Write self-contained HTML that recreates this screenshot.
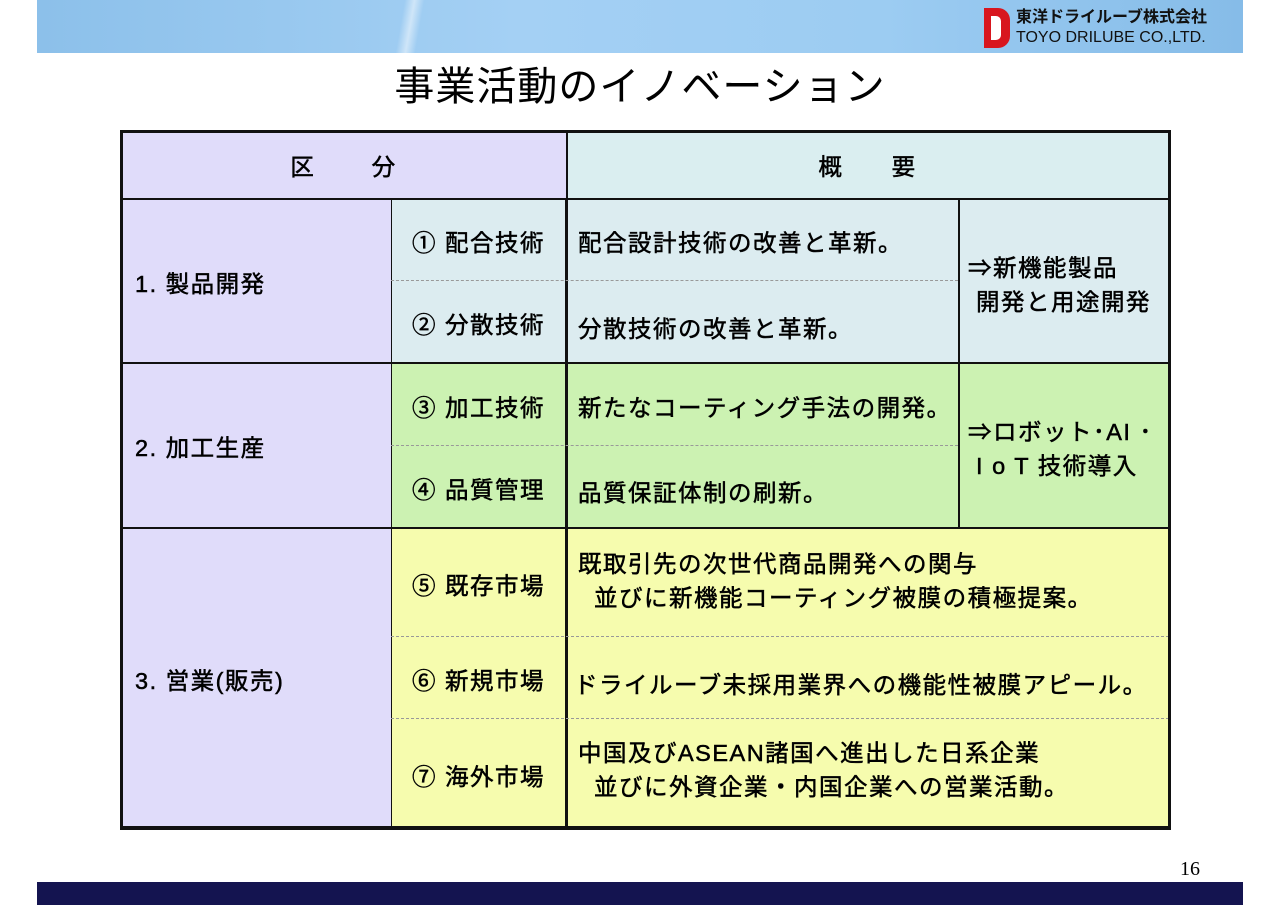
<!DOCTYPE html>
<html><head><meta charset="utf-8"><style>
*{margin:0;padding:0;box-sizing:border-box}
body{width:1280px;height:905px;background:#fff;position:relative;overflow:hidden;font-family:"Liberation Sans","Noto Sans CJK JP",sans-serif;color:#000}
.a{position:absolute}
.c{position:absolute;display:flex;align-items:center;font-size:23.5px;letter-spacing:1.5px;-webkit-text-stroke:0.5px #000;white-space:nowrap}
.t{position:absolute;font-size:23.5px;letter-spacing:1.5px;-webkit-text-stroke:0.5px #000;line-height:34px;white-space:nowrap}
.b{border:1.5px solid #111}
.d{border-top:1px dashed #999}
</style></head><body>
<div class="a" style="left:37px;top:0;width:1206px;height:53px;background:linear-gradient(90deg,#8cc0ea 0%,#a4d0f4 40%,#9cccf2 70%,#86bce8 100%)"></div>
<div class="a" style="left:390px;top:0;width:40px;height:53px;background:linear-gradient(100deg,transparent 30%,rgba(255,255,255,.5) 50%,transparent 70%)"></div>
<div class="a" style="left:984px;top:8px;width:26px;height:40px;background:#d8161e;border-radius:0 12px 12px 0"></div>
<div class="a" style="left:991px;top:16px;width:10px;height:24px;background:#fff;border-radius:0 5px 5px 0"></div>
<div class="a" style="left:1016px;top:8px;font-size:16px;font-weight:bold;line-height:19px;color:#111">東洋ドライルーブ株式会社</div>
<div class="a" style="left:1016px;top:28px;font-size:16px;line-height:19px;color:#111">TOYO DRILUBE CO.,LTD.</div>
<div class="a" style="left:0;width:1280px;top:60px;text-align:center;font-size:40px;letter-spacing:1px;line-height:54px">事業活動のイノベーション</div>

<div class="a" style="left:121px;top:131px;width:445px;height:67px;background:#e0dcfa"></div>
<div class="a" style="left:566px;top:131px;width:603px;height:67px;background:#daeef0"></div>
<div class="a" style="left:121px;top:198px;width:270px;height:630px;background:#e0dcfa"></div>
<div class="a" style="left:391px;top:198px;width:778px;height:164px;background:#dcecf0"></div>
<div class="a" style="left:391px;top:362px;width:778px;height:165px;background:#ccf2b2"></div>
<div class="a" style="left:391px;top:527px;width:778px;height:301px;background:#f6fcae"></div>

<div class="a b" style="left:391px;top:198px;width:175px;height:630px"></div>
<div class="a b" style="left:566px;top:131px;width:0;height:697px"></div>
<div class="a b" style="left:958px;top:198px;width:0;height:329px"></div>
<div class="a b" style="left:121px;top:198px;width:1048px;height:0"></div>
<div class="a b" style="left:121px;top:362px;width:1048px;height:0"></div>
<div class="a b" style="left:121px;top:527px;width:1048px;height:0"></div>
<div class="a d" style="left:391px;top:280px;width:567px"></div>
<div class="a d" style="left:391px;top:445px;width:567px"></div>
<div class="a d" style="left:391px;top:636px;width:778px"></div>
<div class="a d" style="left:391px;top:718px;width:778px"></div>
<div class="a" style="left:120px;top:130px;width:1051px;height:700px;border:3px solid #111;border-bottom-width:4px"></div>

<div class="c" style="left:121px;top:131px;width:445px;height:67px;justify-content:center">区&nbsp;&nbsp;&nbsp;&nbsp;&nbsp;&nbsp;&nbsp;分</div>
<div class="c" style="left:566px;top:131px;width:603px;height:67px;justify-content:center">概&nbsp;&nbsp;&nbsp;&nbsp;&nbsp;&nbsp;要</div>
<div class="c" style="left:135px;top:198px;height:168px">1. 製品開発</div>
<div class="c" style="left:135px;top:362px;height:168px">2. 加工生産</div>
<div class="c" style="left:135px;top:527px;height:304px">3. 営業(販売)</div>
<div class="c" style="left:391px;top:198px;width:175px;height:86px;justify-content:center">① 配合技術</div>
<div class="c" style="left:391px;top:280px;width:175px;height:86px;justify-content:center">② 分散技術</div>
<div class="c" style="left:391px;top:362px;width:175px;height:87px;justify-content:center">③ 加工技術</div>
<div class="c" style="left:391px;top:445px;width:175px;height:86px;justify-content:center">④ 品質管理</div>
<div class="c" style="left:391px;top:527px;width:175px;height:113px;justify-content:center">⑤ 既存市場</div>
<div class="c" style="left:391px;top:636px;width:175px;height:86px;justify-content:center">⑥ 新規市場</div>
<div class="c" style="left:391px;top:718px;width:175px;height:114px;justify-content:center">⑦ 海外市場</div>
<div class="c" style="left:578px;top:198px;height:86px">配合設計技術の改善と革新。</div>
<div class="c" style="left:578px;top:280px;height:94px">分散技術の改善と革新。</div>
<div class="c" style="left:578px;top:362px;height:87px">新たなコーティング手法の開発。</div>
<div class="c" style="left:578px;top:445px;height:92px">品質保証体制の刷新。</div>
<div class="t" style="left:578px;top:547px">既取引先の次世代商品開発への関与<br>&nbsp;&nbsp;並びに新機能コーティング被膜の積極提案。</div>
<div class="c" style="left:574px;top:636px;height:94px">ドライルーブ未採用業界への機能性被膜アピール。</div>
<div class="t" style="left:578px;top:736px">中国及びASEAN諸国へ進出した日系企業<br>&nbsp;&nbsp;並びに外資企業・内国企業への営業活動。</div>
<div class="t" style="left:968px;top:251px">⇒新機能製品<br>&nbsp;開発と用途開発</div>
<div class="t" style="left:968px;top:415px">⇒ロボット･AI ･<br>&nbsp;I o T 技術導入</div>

<div class="a" style="left:1180px;top:858px;font-family:'Liberation Serif',serif;font-size:20px">16</div>
<div class="a" style="left:37px;top:882px;width:1206px;height:23px;background:#141450"></div>
</body></html>
